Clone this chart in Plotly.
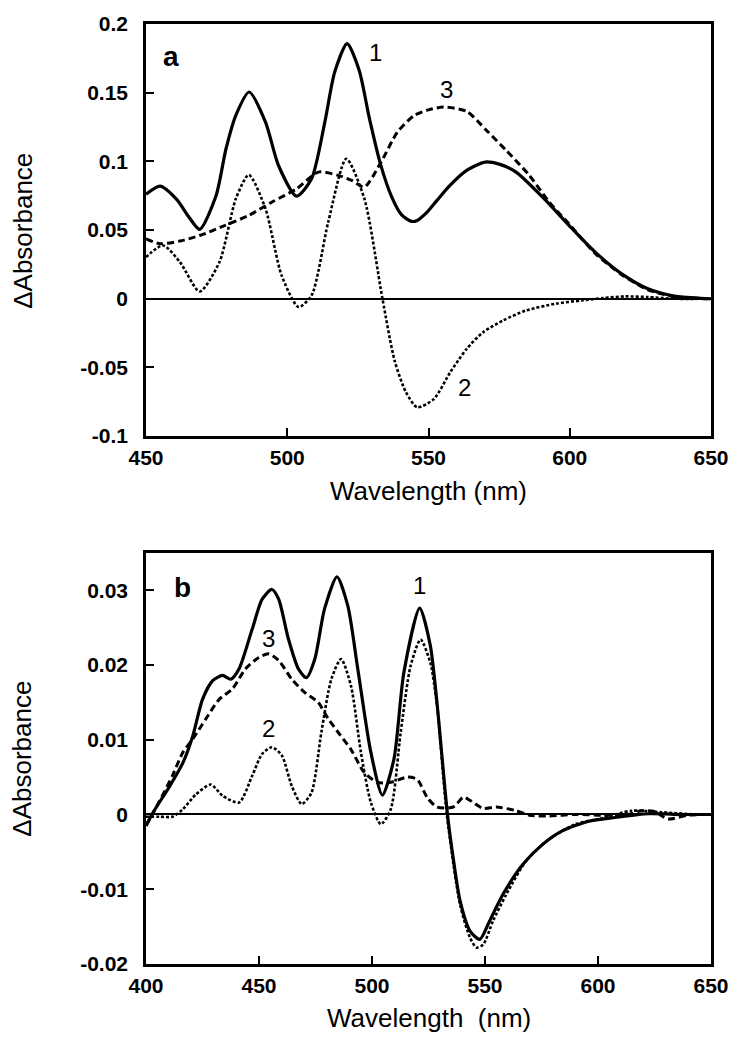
import plotly.graph_objects as go

# ---------------- Panel a data ----------------
a1_x = [450, 455, 461, 465, 469, 474.8, 478.3, 481.8, 486.5, 492.3, 496.9, 503.3, 508.6, 513.3, 516.8, 521.2, 525.5, 529, 533, 537, 540.5, 544, 546, 549.5, 553, 557.6, 563.5, 570, 575, 581, 591.5, 599.7, 609, 618.4, 627.7, 637, 646.4, 650]
a1_y = [0.076, 0.082, 0.072, 0.060, 0.0505, 0.075, 0.109, 0.1335, 0.1505, 0.1286, 0.097, 0.0747, 0.0873, 0.1286, 0.165, 0.1857, 0.166, 0.132, 0.098, 0.074, 0.061, 0.0563, 0.057, 0.063, 0.0716, 0.0825, 0.0934, 0.0995, 0.098, 0.0922, 0.0716, 0.0534, 0.0339, 0.0181, 0.0072, 0.0019, 0.0003, 0.0]

a2_x = [450, 456, 462, 469, 476, 481.8, 486.4, 492.3, 498, 504, 508.6, 514.5, 520.9, 527.3, 533.7, 538, 542, 546, 551.9, 557.7, 563.5, 569.4, 576.4, 584.6, 595.1, 604.4, 612, 619.6, 627.7, 637, 650]
a2_y = [0.0303, 0.0388, 0.0267, 0.0053, 0.0267, 0.0728, 0.0902, 0.0655, 0.017, -0.006, 0.0024, 0.0558, 0.1019, 0.0728, 0.0, -0.045, -0.068, -0.079, -0.073, -0.0535, -0.0365, -0.0243, -0.0158, -0.0085, -0.0036, -0.0012, 0.0005, 0.0017, 0.0012, 0.0, 0.0]

a3_x = [450, 455, 462, 469, 478, 486.4, 494.6, 503.3, 511, 518, 523, 527.3, 533.2, 539, 545, 550, 555.3, 563.5, 570.5, 577.5, 585.7, 592.7, 599.7, 609, 618.4, 627.7, 637, 646, 650]
a3_y = [0.0436, 0.040, 0.042, 0.046, 0.0534, 0.0607, 0.0704, 0.080, 0.0922, 0.0898, 0.086, 0.0813, 0.0995, 0.1213, 0.1335, 0.1375, 0.1395, 0.1364, 0.1226, 0.108, 0.0898, 0.0704, 0.0545, 0.033, 0.0175, 0.0065, 0.0015, 0.0002, 0.0]

# ---------------- Panel b data ----------------
b1_x = [400, 403.2, 410.5, 416.3, 420.7, 425, 429.5, 433.9, 437.5, 441.2, 447, 451.4, 455.7, 458.7, 463, 467.4, 471, 474.7, 479, 484.5, 489.3, 493.7, 499.5, 504.6, 509.7, 514.1, 521.1, 525.8, 528.8, 533.4, 536.1, 539, 543.4, 547.7, 552.1, 557.9, 566.7, 575.5, 584.2, 595.9, 607.6, 622.2, 636.8, 650]
b1_y = [-0.0015, 0.0003, 0.0038, 0.0069, 0.0105, 0.0154, 0.0179, 0.0186, 0.0181, 0.0195, 0.0248, 0.0288, 0.0301, 0.0288, 0.0235, 0.0195, 0.0183, 0.0208, 0.0275, 0.0318, 0.0279, 0.0195, 0.0083, 0.0026, 0.0074, 0.019, 0.0276, 0.0226, 0.0148, 0.0, -0.0062, -0.0116, -0.0156, -0.0167, -0.0142, -0.0107, -0.0067, -0.004, -0.0022, -0.0009, -0.0004, 0.0001, 0.0, 0.0]

b2_x = [400, 406, 411.7, 416.3, 422.1, 428.7, 433.9, 441.2, 447, 451.4, 455.7, 460.1, 464.5, 468.9, 473.2, 477.6, 482, 486.3, 490.7, 495.1, 499.5, 503.9, 508.3, 512.7, 517.1, 521.5, 525.8, 528.8, 533.1, 539, 543.4, 546.2, 549.2, 553.6, 559.4, 568.2, 578.4, 590, 601.7, 614.9, 628, 644.1, 650]
b2_y = [-0.0003, -0.0003, -0.0003, 0.0007, 0.0027, 0.004, 0.0025, 0.0016, 0.0052, 0.0081, 0.009, 0.0079, 0.0038, 0.0014, 0.0029, 0.011, 0.0181, 0.0208, 0.0172, 0.0083, 0.0016, -0.0013, 0.0007, 0.011, 0.0199, 0.0234, 0.0203, 0.0145, 0.0, -0.0121, -0.0165, -0.0178, -0.0174, -0.0142, -0.0107, -0.0062, -0.0033, -0.0013, -0.0005, 0.0005, 0.0003, 0.0, 0.0]

b3_x = [400, 406, 411.7, 416.3, 420.7, 426.5, 432.4, 438.2, 444.1, 449.9, 454.3, 458.7, 464.5, 470.3, 476.2, 480.6, 485, 490.7, 496.6, 502.4, 508.3, 515.6, 520, 524.4, 528.8, 536, 540.4, 543.3, 549.2, 555, 563.8, 569.6, 578.4, 590, 601.7, 613.4, 619.2, 625, 631, 639.7, 648.4, 650]
b3_y = [-0.0015, 0.0018, 0.0052, 0.0083, 0.0101, 0.0128, 0.0154, 0.0168, 0.0195, 0.021, 0.0215, 0.0206, 0.0181, 0.0163, 0.015, 0.0128, 0.011, 0.0087, 0.0056, 0.0043, 0.0043, 0.005, 0.0047, 0.0023, 0.001, 0.001, 0.0023, 0.0019, 0.0008, 0.001, 0.0005, -0.0001, -0.0002, 0.0, -0.0001, 0.0, 0.0005, 0.0004, -0.0006, -0.0001, 0.0, 0.0]

# ---------------- Tick labels ----------------
a_xticks = [450, 500, 550, 600, 650]
a_yticks = [0.2, 0.15, 0.1, 0.05, 0, -0.05, -0.1]
a_yticktext = ["0.2", "0.15", "0.1", "0.05", "0", "-0.05", "-0.1"]
b_xticks = [400, 450, 500, 550, 600, 650]
b_yticks = [0.03, 0.02, 0.01, 0, -0.01, -0.02]
b_yticktext = ["0.03", "0.02", "0.01", "0", "-0.01", "-0.02"]

# curve labels
a_labels = [("1", 531.3, 0.179), ("3", 556.5, 0.152), ("2", 562.9, -0.0644)]
b_labels = [("1", 521.1, 0.0306), ("3", 454.3, 0.0235), ("2", 454.3, 0.0115)]

FONT = "Liberation Sans, Arial, Helvetica, sans-serif"

fig = go.Figure()

def add(x, y, dash, width, xa, ya):
    fig.add_trace(go.Scatter(x=x, y=y, mode="lines", xaxis=xa, yaxis=ya,
                             line=dict(color="black", width=width, dash=dash,
                                       shape="spline", smoothing=0.7),
                             showlegend=False, hoverinfo="skip"))

add(a3_x, a3_y, "7px,4px", 3, "x", "y")
add(a2_x, a2_y, "3px,2px", 2.6, "x", "y")
add(a1_x, a1_y, "solid", 3.2, "x", "y")
add(b3_x, b3_y, "7px,4px", 3, "x2", "y2")
add(b2_x, b2_y, "3px,2px", 2.6, "x2", "y2")
add(b1_x, b1_y, "solid", 3.2, "x2", "y2")

axis_common = dict(showline=True, linecolor="black", linewidth=2.5, mirror=True,
                   ticks="inside", ticklen=8, tickwidth=2, tickcolor="black",
                   showgrid=False,
                   tickfont=dict(family=FONT, size=21, color="black", weight="bold"))

fig.update_layout(
    width=741, height=1050,
    margin=dict(l=146, r=24, t=22, b=86),
    paper_bgcolor="white", plot_bgcolor="white",
    xaxis=dict(range=[450, 650], tickvals=a_xticks, anchor="y",
               ticklabelstandoff=1, zeroline=False, **axis_common),
    yaxis=dict(range=[-0.1, 0.2], tickvals=a_yticks, ticktext=a_yticktext,
               domain=[0.5616, 1.0], anchor="x", ticklabelstandoff=11,
               zeroline=True, zerolinecolor="black", zerolinewidth=2, **axis_common),
    xaxis2=dict(range=[400, 650], tickvals=b_xticks, anchor="y2",
                ticklabelstandoff=1, zeroline=False, **axis_common),
    yaxis2=dict(range=[-0.02, 0.035], tickvals=b_yticks, ticktext=b_yticktext,
                domain=[0.0, 0.4374], anchor="x2", ticklabelstandoff=11,
                zeroline=True, zerolinecolor="black", zerolinewidth=2, **axis_common),
)

ann = []
for t, x, y in a_labels:
    ann.append(dict(text=t, x=x, y=y, xref="x", yref="y", showarrow=False,
                    font=dict(family=FONT, size=24, color="black")))
for t, x, y in b_labels:
    ann.append(dict(text=t, x=x, y=y, xref="x2", yref="y2", showarrow=False,
                    font=dict(family=FONT, size=24, color="black")))
ann.append(dict(text="a", x=459, y=0.176, xref="x", yref="y", showarrow=False,
                font=dict(family=FONT, size=28, color="black", weight="bold")))
ann.append(dict(text="b", x=416.2, y=0.0304, xref="x2", yref="y2", showarrow=False,
                font=dict(family=FONT, size=28, color="black", weight="bold")))
# axis titles
ann.append(dict(text="Wavelength (nm)", x=0.5, y=0.503, xref="paper", yref="paper",
                xanchor="center", yanchor="middle", showarrow=False,
                font=dict(family=FONT, size=26, color="black")))
ann.append(dict(text="Wavelength\u00a0\u00a0(nm)", x=0.5, y=-0.057, xref="paper", yref="paper",
                xanchor="center", yanchor="middle", showarrow=False,
                font=dict(family=FONT, size=26, color="black")))
ann.append(dict(text="\u0394Absorbance", x=-0.219, y=(964 - 229) / 942, xref="paper", yref="paper",
                xanchor="center", yanchor="middle", textangle=-90, showarrow=False,
                font=dict(family=FONT, size=26, color="black")))
ann.append(dict(text="\u0394Absorbance", x=-0.219, y=(964 - 758) / 942, xref="paper", yref="paper",
                xanchor="center", yanchor="middle", textangle=-90, showarrow=False,
                font=dict(family=FONT, size=26, color="black")))
fig.update_layout(annotations=ann)

# remove the browser's default 8px body margin so the figure fills the window exactly
fig.write_html("out.html", config={"displayModeBar": False},
               post_script="document.body.style.margin='0';")
